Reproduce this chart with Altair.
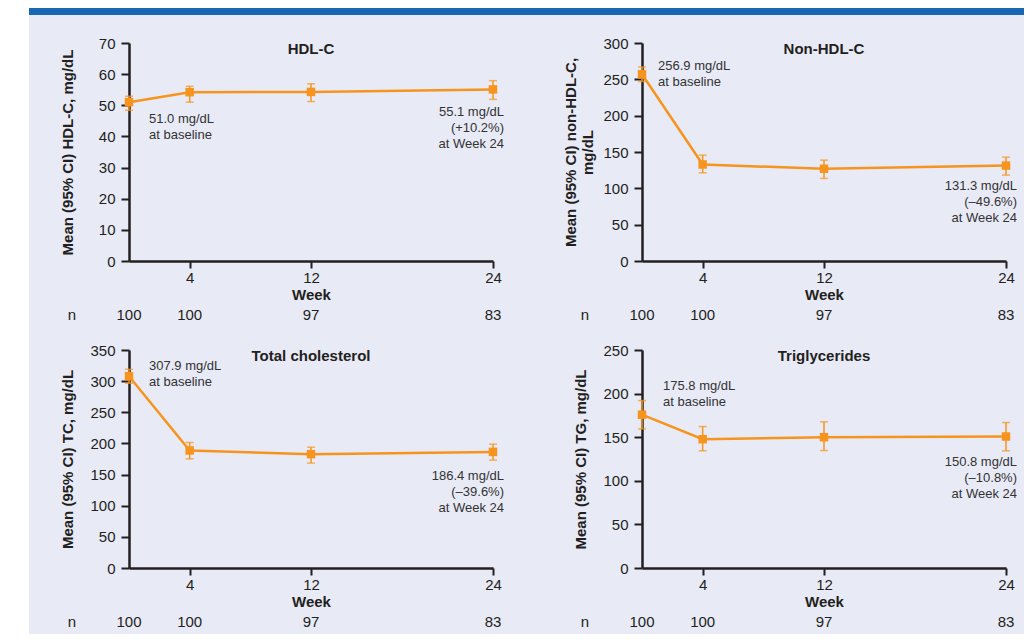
import altair as alt
import pandas as pd

# ---- data ----
weeks = [0, 4, 12, 24]
n_counts = [100, 100, 97, 83]

hdl_mean = [51.0, 54.2, 54.3, 55.1]
hdl_lo = [48.4, 51.0, 51.2, 51.9]
hdl_hi = [52.9, 56.1, 56.9, 57.9]

nonhdl_mean = [256.9, 132.8, 126.9, 131.3]
nonhdl_lo = [247.0, 121.4, 113.6, 118.2]
nonhdl_hi = [267.0, 145.7, 138.8, 142.9]

tc_mean = [307.9, 188.7, 182.8, 186.4]
tc_lo = [296.6, 175.3, 168.4, 173.2]
tc_hi = [319.0, 201.5, 194.0, 198.8]

tg_mean = [175.8, 147.7, 150.0, 150.8]
tg_lo = [159.5, 134.4, 134.7, 134.4]
tg_hi = [192.0, 162.2, 167.6, 166.8]

x_ticks = [4, 12, 24]

ORANGE = "#F7941D"
DARK = "#231F20"
ANN = "#333333"
FONT = "Liberation Sans"
W, H = 364, 218


def panel(mean, lo, hi, ymax, ystep, ytitle, title, base_txt, end_txt,
          base_dx, base_dy, end_dy, title_x=-62, decor=False):
    df = pd.DataFrame({"week": weeks, "mean": mean, "lo": lo, "hi": hi, "n": n_counts})
    one = pd.DataFrame({"k": [0]})
    xs = alt.Scale(domain=[0, 24], nice=False, zero=False)
    ys = alt.Scale(domain=[0, ymax], nice=False)
    xa = alt.Axis(values=x_ticks, title="Week", tickSize=7, labelPadding=2,
                  titleBaseline="middle", titleY=33)
    ya = alt.Axis(values=list(range(0, ymax + 1, ystep)), title=ytitle,
                  tickSize=8, labelPadding=6, titleX=title_x, titleY=H / 2,
                  titleBaseline="middle", titleLineHeight=17)

    def X(f):
        return alt.X(f, scale=xs, axis=xa)

    def Y(f):
        return alt.Y(f, scale=ys, axis=ya)

    base = alt.Chart(df)
    layers = []
    if decor:
        layers.append(alt.Chart(one).mark_rect(color="white").encode(
            x=alt.value(-121), x2=alt.value(-100), y=alt.value(-35), y2=alt.value(591)))
        layers.append(alt.Chart(one).mark_rect(color="#1767B2").encode(
            x=alt.value(-100), x2=alt.value(895), y=alt.value(-35), y2=alt.value(-28)))
    line = base.mark_line(color=ORANGE, strokeWidth=2.5).encode(x=X("week:Q"), y=Y("mean:Q"))
    rule = base.mark_rule(color=ORANGE, strokeWidth=1.5).encode(
        x=X("week:Q"), y=Y("lo:Q"), y2="hi:Q")
    cap_lo = base.mark_tick(color=ORANGE, orient="horizontal", size=8, thickness=1.5).encode(
        x=X("week:Q"), y=Y("lo:Q"))
    cap_hi = base.mark_tick(color=ORANGE, orient="horizontal", size=8, thickness=1.5).encode(
        x=X("week:Q"), y=Y("hi:Q"))
    pts = base.mark_square(color=ORANGE, size=72, opacity=1).encode(
        x=X("week:Q"), y=Y("mean:Q"))
    nrow = base.mark_text(font=FONT, fontSize=15, color=DARK, baseline="middle").encode(
        x=X("week:Q"), y=alt.value(272), text="n:Q")
    nlab = alt.Chart(one).mark_text(text="n", font=FONT, fontSize=15, color=DARK,
                                    baseline="middle").encode(
        x=alt.value(-57), y=alt.value(272))
    ttl = alt.Chart(one).mark_text(text=title, font=FONT, fontSize=15, fontWeight="bold",
                                   color=DARK, baseline="middle").encode(
        x=alt.datum(12, scale=xs, axis=xa), y=alt.value(6))
    ann1 = alt.Chart(one).mark_text(text=base_txt, font=FONT, fontSize=13, color=ANN,
                                    align="left", baseline="top", lineHeight=16,
                                    dx=base_dx, dy=base_dy).encode(
        x=alt.datum(weeks[0], scale=xs, axis=xa), y=alt.datum(mean[0], scale=ys, axis=ya))
    ann2 = alt.Chart(one).mark_text(text=end_txt, font=FONT, fontSize=13, color=ANN,
                                    align="right", baseline="top", lineHeight=16,
                                    dx=11, dy=end_dy).encode(
        x=alt.datum(weeks[-1], scale=xs, axis=xa), y=alt.datum(mean[-1], scale=ys, axis=ya))
    layers += [line, rule, cap_lo, cap_hi, pts, nrow, nlab, ttl, ann1, ann2]
    return alt.layer(*layers).properties(width=W, height=H)


p1 = panel(hdl_mean, hdl_lo, hdl_hi, 70, 10, "Mean (95% CI) HDL-C, mg/dL", "HDL-C",
           ["51.0 mg/dL", "at baseline"], ["55.1 mg/dL", "(+10.2%)", "at Week 24"],
           20, 11, 17, decor=True)
p2 = panel(nonhdl_mean, nonhdl_lo, nonhdl_hi, 300, 50,
           ["Mean (95% CI) non-HDL-C,", "mg/dL"], "Non-HDL-C",
           ["256.9 mg/dL", "at baseline"], ["131.3 mg/dL", "(\u201349.6%)", "at Week 24"],
           16, -14, 14, title_x=-72)
p3 = panel(tc_mean, tc_lo, tc_hi, 350, 50, "Mean (95% CI) TC, mg/dL", "Total cholesterol",
           ["307.9 mg/dL", "at baseline"], ["186.4 mg/dL", "(\u201339.6%)", "at Week 24"],
           20, -16, 18)
p4 = panel(tg_mean, tg_lo, tg_hi, 250, 50, "Mean (95% CI) TG, mg/dL", "Triglycerides",
           ["175.8 mg/dL", "at baseline"], ["150.8 mg/dL", "(\u201310.8%)", "at Week 24"],
           21, -35, 19)

chart = alt.concat(p1, p2, p3, p4, columns=2, spacing={"row": 89, "column": 149},
                   bounds="flush").properties(
    background="#E8EAF6",
    padding={"left": 0, "top": 0, "right": 0, "bottom": 0},
).resolve_scale(x="independent", y="independent").configure_view(stroke=None).configure_axis(
    grid=False, domainColor=DARK, domainWidth=2.5, tickColor=DARK, tickWidth=2,
    labelFont=FONT, labelFontSize=15, labelColor=DARK, labelOverlap=False, labelFlush=False,
    labelBound=False,
    titleFont=FONT, titleFontSize=15, titleFontWeight="bold", titleColor=DARK,
)

chart.save("out.html", embed_options={"renderer": "svg", "actions": False})
